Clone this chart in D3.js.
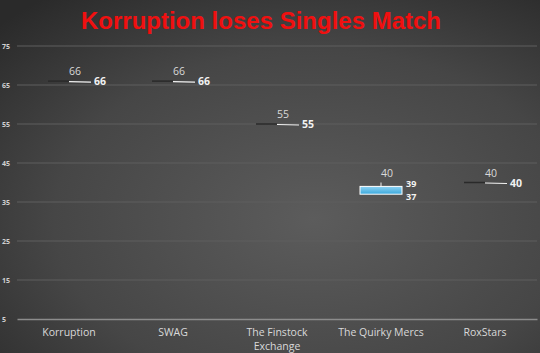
<!DOCTYPE html>
<html>
<head>
<meta charset="utf-8">
<script src="https://cdn.jsdelivr.net/npm/d3@7"></script>
<style>
  body { margin: 0; background: #333; }
  svg { display: block; }
</style>
</head>
<body>
<div id="chart"></div>
<script>
// stock-style chart: high / open / close / low per team
const teams  = ["Korruption", "SWAG", "The Finstock Exchange", "The Quirky Mercs", "RoxStars"];
const highs  = [66, 66, 55, 40, 40];
const opens  = [66, 66, 55, 39, 40];
const closes = [66, 66, 55, 37, 40];
const lows   = [66, 66, 55, 37, 40];
const yTicks = [5, 15, 25, 35, 45, 55, 65, 75];

const width = 540, height = 353;
const plotLeft = 17, plotRight = 537, plotTop = 46, plotBottom = 319;

const data = teams.map((t, i) => ({
  team: t, high: highs[i], open: opens[i], close: closes[i], low: lows[i]
}));

const svg = d3.select("#chart").append("svg")
  .attr("width", width)
  .attr("height", height);

// background
const defs = svg.append("defs");
const bg = defs.append("radialGradient")
  .attr("id", "bg")
  .attr("cx", "58%").attr("cy", "62%").attr("r", "80%");
bg.append("stop").attr("offset", "0%").attr("stop-color", "#5c5c5c");
bg.append("stop").attr("offset", "60%").attr("stop-color", "#464646");
bg.append("stop").attr("offset", "100%").attr("stop-color", "#2a2a2a");

const boxFill = defs.append("linearGradient")
  .attr("id", "box").attr("x1", 0).attr("x2", 0).attr("y1", 0).attr("y2", 1);
boxFill.append("stop").attr("offset", "0%").attr("stop-color", "#8fd3f4");
boxFill.append("stop").attr("offset", "100%").attr("stop-color", "#3aa8dc");

svg.append("rect")
  .attr("width", width).attr("height", height)
  .attr("fill", "url(#bg)");

// scales
const x = d3.scaleBand().domain(teams).range([plotLeft, plotRight]);
const y = d3.scaleLinear().domain([5, 75]).range([plotBottom, plotTop]);

// title
svg.append("text")
  .attr("x", 261).attr("y", 29)
  .attr("text-anchor", "middle")
  .attr("fill", "#f01010")
  .style("font-family", "'Liberation Sans', Arial, sans-serif")
  .style("font-weight", "bold")
  .style("font-size", "24px")
  .text("Korruption loses Singles Match");

// gridlines
svg.append("g")
  .selectAll("line")
  .data(yTicks.filter(d => d !== 5))
  .join("line")
  .attr("x1", plotLeft).attr("x2", plotRight)
  .attr("y1", d => y(d)).attr("y2", d => y(d))
  .attr("stroke", "#5f5f5f")
  .attr("stroke-width", 1);

// y axis labels
const yAxis = svg.append("g")
  .attr("transform", `translate(${plotLeft},0)`)
  .call(d3.axisLeft(y).tickValues(yTicks).tickSize(0).tickPadding(4));
yAxis.select(".domain").remove();
yAxis.selectAll("text")
  .attr("fill", "#d0d0d0")
  .style("font-family", "'Open Sans', sans-serif")
  .style("font-weight", "bold")
  .style("font-size", "7px")
  .attr("text-anchor", "start")
  .attr("x", -15);

// x axis
const xAxis = svg.append("g")
  .attr("transform", `translate(0,${plotBottom})`)
  .call(d3.axisBottom(x).tickSize(0).tickPadding(10));
xAxis.select(".domain")
  .attr("stroke", "#8c8c8c")
  .attr("stroke-width", 1.5);
xAxis.selectAll("text")
  .attr("fill", "#d9d9d9")
  .style("font-family", "'Open Sans', sans-serif")
  .style("font-size", "10.5px")
  .call(wrap, 95);

function wrap(texts, w) {
  texts.each(function() {
    const text = d3.select(this);
    const words = text.text().split(/\s+/);
    const dy = text.attr("dy");
    const yy = text.attr("y");
    text.text(null);
    let line = [];
    let tspan = text.append("tspan").attr("x", 0).attr("y", yy).attr("dy", dy);
    let n = 0;
    for (const word of words) {
      line.push(word);
      tspan.text(line.join(" "));
      if (tspan.node().getComputedTextLength() > w && line.length > 1) {
        line.pop();
        tspan.text(line.join(" "));
        line = [word];
        n++;
        tspan = text.append("tspan").attr("x", 0).attr("y", yy)
          .attr("dy", (n * 1.3 + parseFloat(dy)) + "em").text(word);
      }
    }
  });
}

const half = 21;
const marks = svg.append("g");

// high-low lines
marks.selectAll(".hl")
  .data(data)
  .join("line")
  .attr("class", "hl")
  .attr("x1", d => x(d.team) + x.bandwidth() / 2)
  .attr("x2", d => x(d.team) + x.bandwidth() / 2)
  .attr("y1", d => y(d.high))
  .attr("y2", d => y(d3.max([d.open, d.close])))
  .attr("stroke", "#f0f0f0")
  .attr("stroke-width", 1);

// open-close boxes
data.forEach(d => {
  const cx = x(d.team) + x.bandwidth() / 2;
  const y0 = y(d3.max([d.open, d.close]));
  const y1 = y(d3.min([d.open, d.close]));
  if (y1 - y0 > 0.5) {
    marks.append("rect")
      .attr("x", cx - half).attr("y", y0)
      .attr("width", half * 2).attr("height", y1 - y0)
      .attr("fill", "url(#box)")
      .attr("stroke", "#ffffff")
      .attr("stroke-width", 1);
  } else {
    marks.append("line")
      .attr("x1", cx - half).attr("x2", cx)
      .attr("y1", y0).attr("y2", y0)
      .attr("stroke", "#2a2a2a").attr("stroke-width", 1.5);
    marks.append("line")
      .attr("x1", cx).attr("x2", cx + half + 1)
      .attr("y1", y0 + 0.5).attr("y2", y0 + 1)
      .attr("stroke", "#f2f2f2").attr("stroke-width", 1.2);
  }
});

// labels
const labels = svg.append("g")
  .style("font-family", "'Open Sans', sans-serif");

labels.selectAll(".lh")
  .data(data)
  .join("text")
  .attr("x", d => x(d.team) + x.bandwidth() / 2 + 6)
  .attr("y", d => y(d.high) - 6)
  .attr("text-anchor", "middle")
  .attr("fill", "#d9d9d9")
  .style("font-size", "10.5px")
  .text(d => d.high);

labels.selectAll(".lo")
  .data(data)
  .join("text")
  .attr("x", d => x(d.team) + x.bandwidth() / 2 + 25)
  .attr("y", d => y(d.open) + (d.open !== d.close ? 1 : 4))
  .attr("fill", "#f2f2f2")
  .style("font-size", d => d.open !== d.close ? "9px" : "10.5px")
  .style("font-weight", "bold")
  .text(d => d.open);

labels.selectAll(".lc")
  .data(data.filter(d => d.close !== d.open))
  .join("text")
  .attr("x", d => x(d.team) + x.bandwidth() / 2 + 25)
  .attr("y", d => y(d.close) + 6)
  .attr("fill", "#f2f2f2")
  .style("font-size", "9px")
  .style("font-weight", "bold")
  .text(d => d.close);
</script>
</body>
</html>
